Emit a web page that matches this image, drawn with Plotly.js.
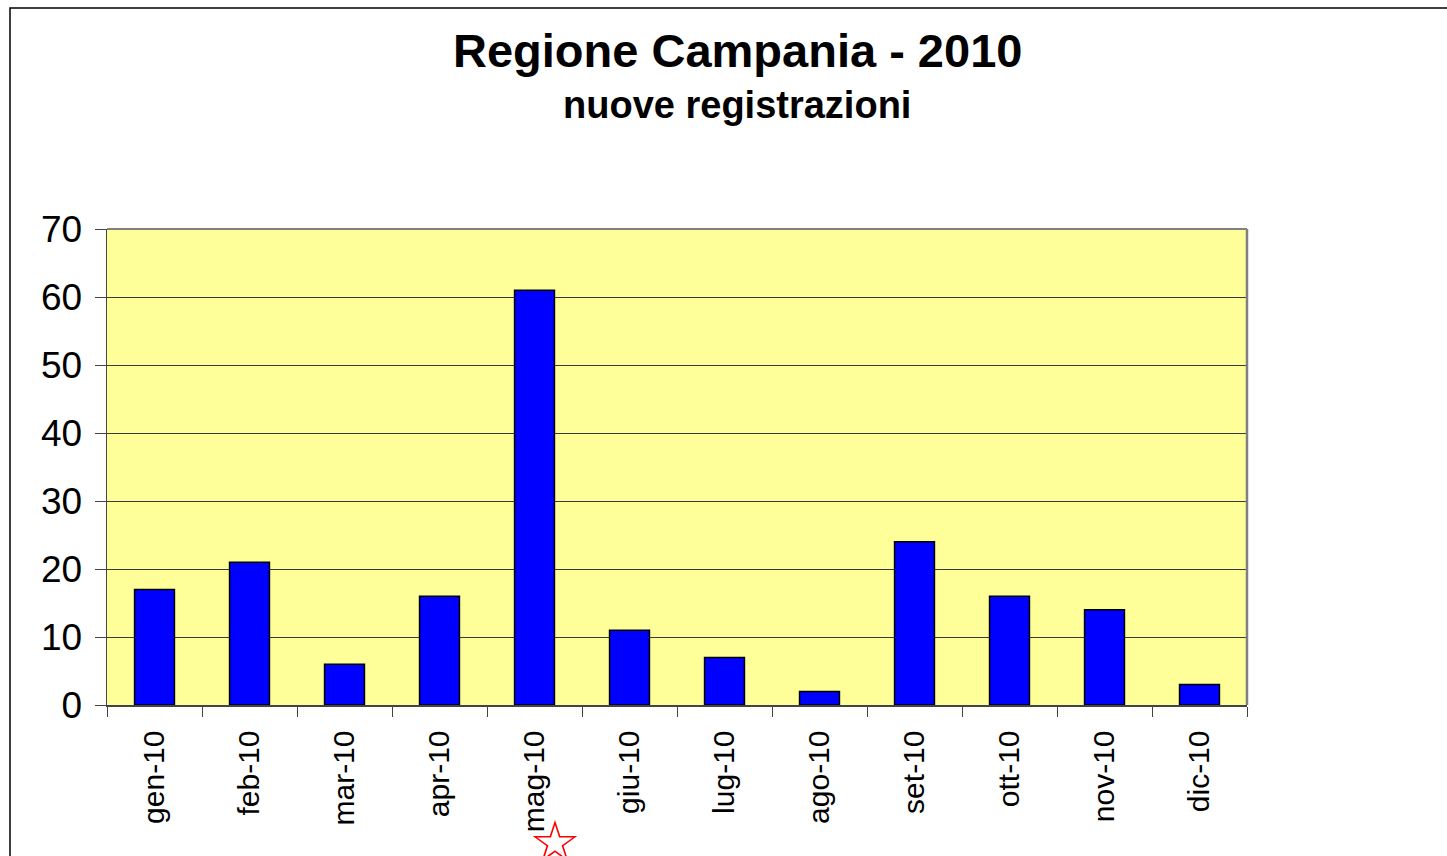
<!DOCTYPE html>
<html>
<head>
<meta charset="utf-8">
<script src="https://cdn.plot.ly/plotly-3.0.1.min.js"></script>
<style>
  html, body { margin: 0; padding: 0; background: #fff; }
  #chart { width: 1447px; height: 856px; }
</style>
</head>
<body>
<div id="chart"></div>
<script>
// monthly new registrations, Campania 2010
const months = ['gen-10', 'feb-10', 'mar-10', 'apr-10', 'mag-10', 'giu-10',
                'lug-10', 'ago-10', 'set-10', 'ott-10', 'nov-10', 'dic-10'];
const registrations = [17, 21, 6, 16, 61, 11, 7, 2, 24, 16, 14, 3];
const yTicks = [0, 10, 20, 30, 40, 50, 60, 70];

const font = 'Liberation Sans, Arial, sans-serif';

const data = [{
    x: months,
    y: registrations,
    type: 'bar',
    width: 0.42,
    marker: {
        color: '#0000FF',
        line: { color: '#000000', width: 1.5 },
    },
    hoverinfo: 'x+y',
}];

const layout = {
    width: 1447,
    height: 856,
    margin: { l: 107, r: 200, t: 229, b: 151 },
    paper_bgcolor: '#ffffff',
    plot_bgcolor: '#FFFF99',
    showlegend: false,
    font: { family: font, color: '#000000' },
    xaxis: {
        type: 'category',
        tickson: 'boundaries',
        ticks: 'outside',
        ticklen: 10,
        tickcolor: '#444',
        tickangle: -90,
        tickfont: { size: 30, family: font },
        ticklabelstandoff: 12,
        showline: true,
        linecolor: '#444',
        linewidth: 1.5,
        showgrid: false,
        mirror: false,
    },
    yaxis: {
        range: [0, 70],
        tickvals: yTicks,
        ticks: 'outside',
        ticklen: 11,
        tickcolor: '#444',
        tickfont: { size: 37, family: font },
        ticklabelstandoff: 5,
        showline: true,
        linecolor: '#444',
        linewidth: 1.5,
        showgrid: true,
        gridcolor: '#3a3a3a',
        gridwidth: 1,
        zeroline: false,
    },
    shapes: [
        // chart frame (runs off right and bottom)
        { type: 'rect', xref: 'paper', yref: 'paper',
          x0: -97 / 1140, x1: 1500 / 1140, y0: -200 / 476, y1: (705 - 8) / 476,
          line: { color: '#000', width: 1.5 } },
        // grey plot border top and right
        { type: 'line', xref: 'paper', yref: 'paper', x0: 0, x1: 1, y0: 1, y1: 1,
          line: { color: '#808080', width: 2 } },
        { type: 'line', xref: 'paper', yref: 'paper', x0: 1, x1: 1, y0: 0, y1: 1,
          line: { color: '#808080', width: 2.5 } },
    ],
    annotations: [
        { text: '<b>Regione Campania - 2010</b>', xref: 'paper', yref: 'paper',
          x: (737 - 107) / 1140, y: (705 - 50) / 476, yanchor: 'middle', showarrow: false,
          font: { size: 47, family: font, color: '#000' } },
        { text: '<b>nuove registrazioni</b>', xref: 'paper', yref: 'paper',
          x: (737 - 107) / 1140, y: (705 - 105) / 476, yanchor: 'middle', showarrow: false,
          font: { size: 38, family: font, color: '#000' } },
        { text: '☆', xref: 'paper', yref: 'paper',
          x: (555 - 107) / 1140, y: (705 - 842) / 476, yanchor: 'middle', showarrow: false,
          font: { size: 58, family: 'DejaVu Sans', color: '#FF0000' } },
    ],
};

Plotly.newPlot('chart', data, layout, { displayModeBar: false, staticPlot: true });
</script>
</body>
</html>
